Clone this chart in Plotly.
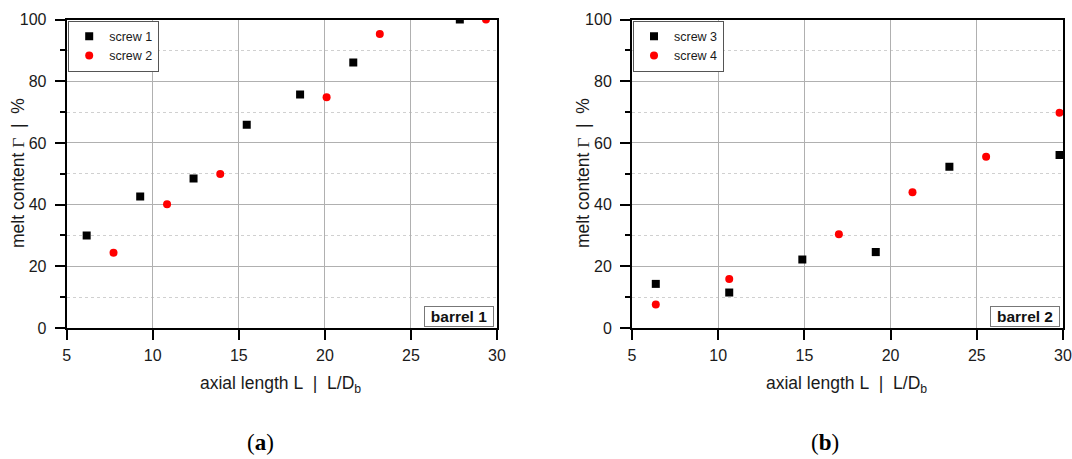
import plotly.graph_objects as go

# Melt content along the screw, barrel 1 (screws 1, 2) and barrel 2 (screws 3, 4)
screw1_x = [6.16, 9.27, 12.37, 15.46, 18.56, 21.65, 27.84]
screw1_y = [30.0, 42.6, 48.5, 65.9, 75.7, 86.1, 100.0]
screw2_x = [7.72, 10.83, 13.92, 20.10, 23.19, 29.36]
screw2_y = [24.4, 40.1, 49.9, 74.8, 95.3, 100.0]

screw3_x = [6.38, 10.64, 14.88, 19.14, 23.41, 29.80]
screw3_y = [14.3, 11.5, 22.2, 24.6, 52.3, 56.1]
screw4_x = [6.38, 10.64, 17.00, 21.27, 25.54, 29.80]
screw4_y = [7.6, 15.9, 30.4, 44.0, 55.5, 69.8]

x_ticks = [5, 10, 15, 20, 25, 30]
y_ticks = [0, 20, 40, 60, 80, 100]
panel_names = ["barrel 1", "barrel 2"]
panel_tags = ["a", "b"]

W, H = 1072, 459
FONT = "Liberation Sans, Arial, sans-serif"
SERIF = "Liberation Serif, Times New Roman, serif"
INK = "#1a1a1a"

fig = go.Figure()

fig.add_trace(go.Scatter(x=screw1_x, y=screw1_y, mode="markers", name="screw 1",
                         marker=dict(symbol="square", size=8, color="black"),
                         xaxis="x", yaxis="y", legend="legend"))
fig.add_trace(go.Scatter(x=screw2_x, y=screw2_y, mode="markers", name="screw 2",
                         marker=dict(symbol="circle", size=8, color="#ff0000"),
                         xaxis="x", yaxis="y", legend="legend"))
fig.add_trace(go.Scatter(x=screw3_x, y=screw3_y, mode="markers", name="screw 3",
                         marker=dict(symbol="square", size=8, color="black"),
                         xaxis="x2", yaxis="y2", legend="legend2"))
fig.add_trace(go.Scatter(x=screw4_x, y=screw4_y, mode="markers", name="screw 4",
                         marker=dict(symbol="circle", size=8, color="#ff0000"),
                         xaxis="x2", yaxis="y2", legend="legend2"))

# plot-area placement in pixels
left_px = [(66.7, 497.0), (632.0, 1063.0)]
top_px, bottom_px = 19.5, 328.0
ydom = [1 - bottom_px / H, 1 - top_px / H]

common_x = dict(range=[5, 30], tickvals=x_ticks, showline=True, mirror=True,
                linecolor="black", linewidth=2, ticks="outside", ticklen=10,
                tickwidth=2, tickcolor="black", showgrid=True, gridcolor="#b0b0b0",
                gridwidth=1, zeroline=False, automargin=False, ticklabelstandoff=2,
                tickfont=dict(family=FONT, size=16, color=INK))
common_y = dict(range=[0, 100], tickvals=y_ticks, showline=True, mirror=True,
                linecolor="black", linewidth=2, ticks="outside", ticklen=10,
                tickwidth=2, tickcolor="black", showgrid=True, gridcolor="#b0b0b0",
                gridwidth=1, zeroline=False, domain=ydom, automargin=False,
                ticklabelstandoff=5,
                minor=dict(dtick=10, tick0=0, ticks="outside", ticklen=5,
                           tickwidth=1.5, tickcolor="black", showgrid=True,
                           gridcolor="#d0d0d0", griddash="dot", gridwidth=1),
                tickfont=dict(family=FONT, size=16, color=INK))

fig.update_layout(
    xaxis=dict(common_x, domain=[left_px[0][0] / W, left_px[0][1] / W], anchor="y"),
    yaxis=dict(common_y, anchor="x"),
    xaxis2=dict(common_x, domain=[left_px[1][0] / W, left_px[1][1] / W], anchor="y2"),
    yaxis2=dict(common_y, anchor="x2"),
)

legend_style = dict(bgcolor="white", bordercolor="#555555", borderwidth=1,
                    font=dict(family=FONT, size=12.5, color=INK),
                    xanchor="left", yanchor="top", tracegroupgap=0)
fig.update_layout(
    legend=dict(legend_style, x=(left_px[0][0] + 1.5) / W, y=1 - 20.5 / H),
    legend2=dict(legend_style, x=(left_px[1][0] + 1) / W, y=1 - 20.5 / H),
)

xtitle = "axial length L\u00a0 |\u00a0 L/D<sub>b</sub>"
ytitle = ("melt content <span style='font-family:" + SERIF + "'>\u0393</span>"
          "\u00a0 |\u00a0 %")
ytitle_x = [18, 583]
tag_x = [260, 825]

for i, (name, tag) in enumerate(zip(panel_names, panel_tags)):
    xr = "x" if i == 0 else "x2"
    yr = "y" if i == 0 else "y2"
    # panel label in the lower-right corner of each plot
    fig.add_annotation(x=30, y=0, xref=xr, yref=yr, xanchor="right", yanchor="bottom",
                       xshift=-3, yshift=1, text="<b>" + name + "</b>", showarrow=False,
                       font=dict(family=FONT, size=15.5, color="#111111"),
                       bgcolor="white", bordercolor="#777777", borderwidth=1,
                       width=66, height=17, borderpad=1)
    # axis titles
    cx = (left_px[i][0] + left_px[i][1]) / 2
    fig.add_annotation(x=(cx - 1) / W, y=1 - 384 / H, xref="paper", yref="paper",
                       xanchor="center", yanchor="middle", text=xtitle, showarrow=False,
                       font=dict(family=FONT, size=17.5, color=INK))
    fig.add_annotation(x=ytitle_x[i] / W, y=1 - 173 / H, xref="paper", yref="paper",
                       xanchor="center", yanchor="middle", text=ytitle, showarrow=False,
                       textangle=-90, font=dict(family=FONT, size=17.5, color=INK))
    # sub-figure tag
    fig.add_annotation(x=tag_x[i] / W, y=1 - 442 / H, xref="paper", yref="paper",
                       xanchor="center", yanchor="middle",
                       text="(<b>" + tag + "</b>)", showarrow=False,
                       font=dict(family=SERIF, size=23, color="black"))

fig.update_layout(width=W, height=H, margin=dict(l=0, r=0, t=0, b=0),
                  paper_bgcolor="white", plot_bgcolor="white", showlegend=True)

fig.write_html("out.html")
